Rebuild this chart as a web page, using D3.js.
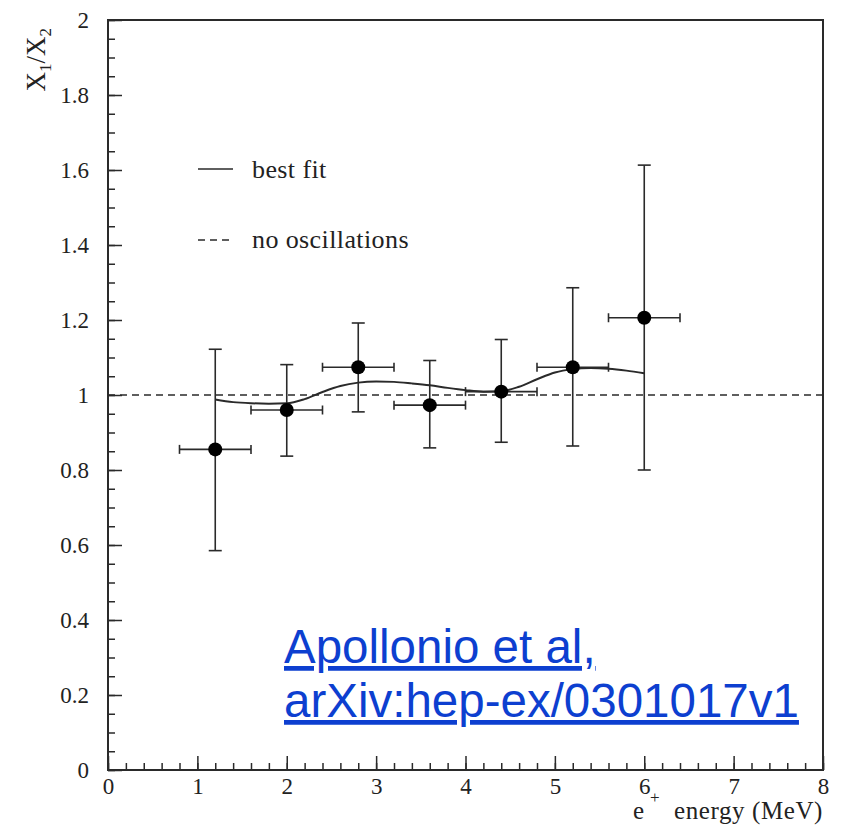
<!DOCTYPE html>
<html>
<head>
<meta charset="utf-8">
<script src="https://cdn.jsdelivr.net/npm/d3@7"></script>
<style>
  body { margin: 0; background: #fff; }
</style>
</head>
<body>
<div id="chart"></div>
<script>
const width = 841;
const height = 831;
const margin = { top: 20, right: 18, bottom: 61, left: 108 };
const innerW = width - margin.left - margin.right;
const innerH = height - margin.top - margin.bottom;

// measured points (bin centres, ratio, error bar ends)
const energy = [1.2, 2.0, 2.8, 3.6, 4.4, 5.2, 6.0];
const ratio = [0.855, 0.960, 1.074, 0.973, 1.009, 1.074, 1.206];
const ratioLow = [0.585, 0.837, 0.955, 0.859, 0.874, 0.864, 0.800];
const ratioHigh = [1.122, 1.081, 1.192, 1.092, 1.148, 1.286, 1.613];
const binHalf = [0.4, 0.4, 0.4, 0.4, 0.4, 0.4, 0.4];

// best fit curve
const fitEnergy = [1.2, 1.4, 1.6, 1.8, 2.0, 2.2, 2.4, 2.6, 2.8, 3.0, 3.2, 3.4, 3.6,
  3.8, 4.0, 4.2, 4.4, 4.6, 4.8, 5.0, 5.2, 5.4, 5.6, 5.8, 6.0];
const fitRatio = [0.988, 0.981, 0.978, 0.977, 0.978, 0.989, 1.008, 1.024, 1.033, 1.036,
  1.035, 1.031, 1.026, 1.019, 1.013, 1.009, 1.010, 1.022, 1.042, 1.060, 1.069, 1.072,
  1.070, 1.065, 1.058];

const noOscillation = 1;

const xTicks = [0, 1, 2, 3, 4, 5, 6, 7, 8];
const yTicks = [0, 0.2, 0.4, 0.6, 0.8, 1, 1.2, 1.4, 1.6, 1.8, 2];
const yTickLabels = ["0", "0.2", "0.4", "0.6", "0.8", "1", "1.2", "1.4", "1.6", "1.8", "2"];
const xMinor = d3.range(0, 8.001, 0.2).map(v => +v.toFixed(1));
const yMinor = d3.range(0, 2.001, 0.05).map(v => +v.toFixed(2));

const legendItems = ["best fit", "no oscillations"];
const citation = ["Apollonio et al,", "arXiv:hep-ex/0301017v1"];

const data = energy.map((e, i) => ({
  e, r: ratio[i], lo: ratioLow[i], hi: ratioHigh[i], dx: binHalf[i]
}));
const fit = fitEnergy.map((e, i) => ({ e, r: fitRatio[i] }));

const ink = "#2a2a2a";
const serif = "'Liberation Serif', 'Times New Roman', serif";

const svg = d3.select("#chart")
  .append("svg")
  .attr("width", width)
  .attr("height", height);

const chart = svg.append("g")
  .attr("transform", `translate(${margin.left},${margin.top})`);

const x = d3.scaleLinear().domain([0, 8]).range([0, innerW]);
const y = d3.scaleLinear().domain([0, 2]).range([innerH, 0]);

// minor ticks
chart.append("g")
  .attr("transform", `translate(0,${innerH})`)
  .call(d3.axisBottom(x).tickValues(xMinor).tickSize(-7).tickFormat(""))
  .call(g => g.select(".domain").remove())
  .call(g => g.selectAll("line").attr("stroke", ink).attr("stroke-width", 1.5));

chart.append("g")
  .call(d3.axisLeft(y).tickValues(yMinor).tickSize(-7).tickFormat(""))
  .call(g => g.select(".domain").remove())
  .call(g => g.selectAll("line").attr("stroke", ink).attr("stroke-width", 1.5));

// major ticks + labels
chart.append("g")
  .attr("transform", `translate(0,${innerH})`)
  .call(d3.axisBottom(x).tickValues(xTicks).tickSize(-14).tickPadding(8).tickFormat(d3.format("d")))
  .call(g => g.select(".domain").remove())
  .call(g => g.selectAll("line").attr("stroke", ink).attr("stroke-width", 1.5))
  .call(g => g.selectAll("text").attr("fill", "#222").style("font-family", serif).style("font-size", "23px"));

chart.append("g")
  .call(d3.axisLeft(y).tickValues(yTicks).tickSize(-14).tickPadding(19)
    .tickFormat((d, i) => yTickLabels[i]))
  .call(g => g.select(".domain").remove())
  .call(g => g.selectAll("line").attr("stroke", ink).attr("stroke-width", 1.5))
  .call(g => g.selectAll("text").attr("fill", "#222").style("font-family", serif).style("font-size", "23px"));

// frame
chart.append("rect")
  .attr("x", 0).attr("y", 0)
  .attr("width", innerW).attr("height", innerH)
  .attr("fill", "none")
  .attr("stroke", ink)
  .attr("stroke-width", 2);

// no oscillation line
chart.append("line")
  .attr("x1", x(0)).attr("x2", x(8))
  .attr("y1", y(noOscillation)).attr("y2", y(noOscillation))
  .attr("stroke", ink)
  .attr("stroke-width", 1.3)
  .attr("stroke-dasharray", "7,5");

// best fit
chart.append("path")
  .datum(fit)
  .attr("fill", "none")
  .attr("stroke", ink)
  .attr("stroke-width", 2)
  .attr("d", d3.line().x(d => x(d.e)).y(d => y(d.r)).curve(d3.curveMonotoneX));

// error bars
const pts = chart.append("g")
  .selectAll("g")
  .data(data)
  .enter()
  .append("g");

pts.append("line")
  .attr("x1", d => x(d.e)).attr("x2", d => x(d.e))
  .attr("y1", d => y(d.lo)).attr("y2", d => y(d.hi))
  .attr("stroke", ink).attr("stroke-width", 1.6);

pts.append("line")
  .attr("x1", d => x(d.e - d.dx)).attr("x2", d => x(d.e + d.dx))
  .attr("y1", d => y(d.r)).attr("y2", d => y(d.r))
  .attr("stroke", ink).attr("stroke-width", 1.6);

// caps
pts.selectAll("line.vcap")
  .data(d => [d.lo, d.hi].map(v => ({ e: d.e, v })))
  .enter()
  .append("line")
  .attr("class", "vcap")
  .attr("x1", d => x(d.e) - 6.5).attr("x2", d => x(d.e) + 6.5)
  .attr("y1", d => y(d.v)).attr("y2", d => y(d.v))
  .attr("stroke", ink).attr("stroke-width", 1.6);

pts.selectAll("line.hcap")
  .data(d => [d.e - d.dx, d.e + d.dx].map(v => ({ r: d.r, v })))
  .enter()
  .append("line")
  .attr("class", "hcap")
  .attr("x1", d => x(d.v)).attr("x2", d => x(d.v))
  .attr("y1", d => y(d.r) - 4.5).attr("y2", d => y(d.r) + 4.5)
  .attr("stroke", ink).attr("stroke-width", 1.6);

pts.append("circle")
  .attr("cx", d => x(d.e))
  .attr("cy", d => y(d.r))
  .attr("r", 7)
  .attr("fill", "#000");

// legend
const legend = svg.append("g");
legend.append("line")
  .attr("x1", 198).attr("x2", 233).attr("y1", 169).attr("y2", 169)
  .attr("stroke", ink).attr("stroke-width", 1.5);
legend.append("line")
  .attr("x1", 198).attr("x2", 234).attr("y1", 240).attr("y2", 240)
  .attr("stroke", ink).attr("stroke-width", 1.5)
  .attr("stroke-dasharray", "7,5");
legend.selectAll("text")
  .data(legendItems)
  .enter()
  .append("text")
  .attr("x", 252)
  .attr("y", (d, i) => i === 0 ? 178 : 248)
  .attr("fill", "#222")
  .style("font-family", serif)
  .style("font-size", "26px")
  .style("letter-spacing", "0.4px")
  .text(d => d);

// axis titles
const yTitle = svg.append("text")
  .attr("transform", "translate(45,28) rotate(-90)")
  .attr("text-anchor", "end")
  .attr("fill", "#222")
  .style("font-family", serif)
  .style("font-size", "27px");
yTitle.append("tspan").text("X");
yTitle.append("tspan").attr("dy", 6).style("font-size", "17px").text("1");
yTitle.append("tspan").attr("dy", -6).text("/X");
yTitle.append("tspan").attr("dy", 6).style("font-size", "17px").text("2");

const xTitle = svg.append("g")
  .attr("fill", "#222")
  .style("font-family", serif);
xTitle.append("text")
  .attr("x", 633).attr("y", 819)
  .style("font-size", "25px")
  .text("e");
xTitle.append("text")
  .attr("x", 650).attr("y", 803)
  .style("font-size", "17px")
  .text("+");
xTitle.append("text")
  .attr("x", 823).attr("y", 819)
  .attr("text-anchor", "end")
  .style("font-size", "25px")
  .style("letter-spacing", "0.6px")
  .text("energy (MeV)");

// citation
svg.append("g")
  .selectAll("text")
  .data(citation)
  .enter()
  .append("text")
  .attr("x", 284)
  .attr("y", (d, i) => 663 + i * 54)
  .attr("fill", "#0d3fd0")
  .style("font-family", "'Liberation Sans', Arial, sans-serif")
  .style("font-size", "47.5px")
  .style("text-decoration", "underline")
  .text(d => d);
</script>
</body>
</html>
